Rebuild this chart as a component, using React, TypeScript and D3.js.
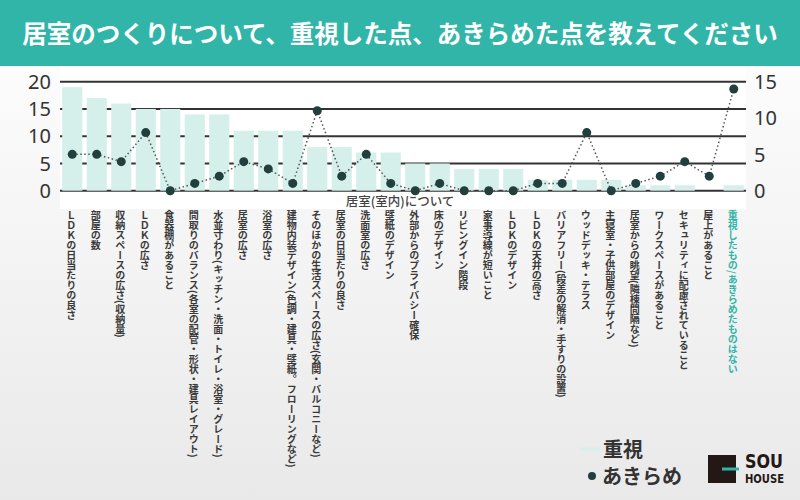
import React from "react";
import * as d3 from "d3";

const categories = [
  "ＬＤＫの日当たりの良さ",
  "部屋の数",
  "収納スペースの広さ(収納量)",
  "ＬＤＫの広さ",
  "食器棚があること",
  "間取りのバランス(各室の配管・形状・建具レイアウト)",
  "水並寸わり(キッチン・洗面・トイレ・浴室・グレード)",
  "居室の広さ",
  "浴室の広さ",
  "建物内装デザイン(色調・建具・壁紙。フローリングなど)",
  "そのほかの生活スペースの広さ(玄関・バルコニーなど)",
  "居室の日当たりの良さ",
  "洗面室の広さ",
  "壁紙のデザイン",
  "外部からのプライバシー確保",
  "床のデザイン",
  "リビングイン階段",
  "家事導線が短いこと",
  "ＬＤＫのデザイン",
  "ＬＤＫの天井の高さ",
  "バリアフリー(段差の解消・手すりの設置)",
  "ウッドデッキ・テラス",
  "主寝室・子供部屋のデザイン",
  "居室からの眺望(隣棟間隔など)",
  "ワークスペースがあること",
  "セキュリティに配慮されていること",
  "屋上があること",
  "重視したもの/あきらめたものはない",
];

const juushi = [19, 17, 16, 15, 15, 14, 14, 11, 11, 11, 8, 8, 7, 7, 5, 5, 4, 4, 4, 2, 2, 2, 2, 1, 1, 1, 0, 1];
const akirame = [5, 5, 4, 8, 0, 1, 2, 4, 3, 1, 11, 2, 5, 1, 0, 1, 0, 0, 0, 1, 1, 8, 0, 1, 2, 4, 2, 14];

const leftTicks = [0, 5, 10, 15, 20];
const rightTicks = [0, 5, 10, 15];

const title = "居室のつくりについて、重視した点、あきらめた点を教えてください";
const axisTitle = "居室(室内)について";
const legendBar = "重視";
const legendLine = "あきらめ";

const FONT = "'Noto Sans CJK JP', 'Noto Sans', sans-serif";

export default function App() {
  const W = 800, H = 500;
  const x = d3.scaleBand<string>().domain(categories).range([60, 746]).paddingInner(0.18).paddingOuter(0.09);
  const yL = d3.scaleLinear().domain([0, 20]).range([190.7, 81.7]);
  const yR = d3.scaleLinear().domain([0, 15]).range([190.7, 81.7]);
  const cx = (i: number) => (x(categories[i]) as number) + x.bandwidth() / 2;
  const line = d3.line<number>().x((_, i) => cx(i)).y((d) => yR(d));

  return (
    <svg width={W} height={H} style={{ display: "block", position: "absolute", left: 0, top: 0 }} fontFamily={FONT}>
      <defs>
        <linearGradient id="bg" x1="0" y1="0" x2="0" y2="1">
          <stop offset="0" stopColor="#ffffff" />
          <stop offset="1" stopColor="#e9e9e9" />
        </linearGradient>
      </defs>
      <rect x={0} y={0} width={W} height={H} fill="url(#bg)" />
      <rect x={0} y={0} width={W} height={66} fill="#31b5a8" />
      <text x={400} y={43} textAnchor="middle" fill="#fff" fontSize={24.5} fontWeight="bold">{title}</text>
      <rect x={60} y={66} width={686} height={143} fill="#fff" />
      {leftTicks.map((t) => (
        <line key={"g" + t} x1={60} x2={746} y1={yL(t)} y2={yL(t)} stroke="#333" strokeWidth={2} />
      ))}
      {juushi.map((v, i) => (
        <rect key={"b" + i} x={x(categories[i]) as number} width={x.bandwidth()} y={yL(v)} height={yL(0) - yL(v)} fill="#d5efeb" />
      ))}
      <path d={line(akirame) || ""} fill="none" stroke="#555" strokeWidth={1.5} strokeDasharray="1.5 2.5" />
      {akirame.map((v, i) => (
        <circle key={"c" + i} cx={cx(i)} cy={yR(v)} r={4.5} fill="#213f3c" />
      ))}
      {leftTicks.map((t) => (
        <text key={"l" + t} x={51} y={yL(t)} dy="0.36em" textAnchor="end" fontSize={20} fill="#333" fontFamily="'Noto Sans', sans-serif">{t}</text>
      ))}
      {rightTicks.map((t) => (
        <text key={"r" + t} x={754} y={yR(t)} dy="0.36em" textAnchor="start" fontSize={20} fill="#333" fontFamily="'Noto Sans', sans-serif">{t}</text>
      ))}
      <text x={400} y={201} dy="0.36em" textAnchor="middle" fontSize={12.5} fill="#444" fontWeight={500}>{axisTitle}</text>
      {categories.map((c, i) => (
        <text key={"t" + i} x={cx(i) - 1} y={210} fontSize={10} fontWeight="bold" fill={i === categories.length - 1 ? "#31b5a8" : "#3a3a3a"} style={{ writingMode: "vertical-rl" }}>{c}</text>
      ))}
      <line x1={580} x2={600} y1={449} y2={449} stroke="#d5efeb" strokeWidth={3} />
      <text x={603} y={457} fontSize={20} fontWeight="bold" fill="#333">{legendBar}</text>
      <circle cx={592} cy={476} r={4} fill="#213f3c" />
      <text x={602} y={484} fontSize={20} fontWeight="bold" fill="#333">{legendLine}</text>
      <rect x={708} y={455} width={28} height={28} fill="#231815" />
      <line x1={722} x2={739} y1={469} y2={469} stroke="#31b5a8" strokeWidth={3} />
      <text x={745} y={468} fontSize={20} fontWeight="bold" fill="#231815" textLength={38} lengthAdjust="spacingAndGlyphs" fontFamily="'DejaVu Sans', sans-serif">SOU</text>
      <text x={745} y={483} fontSize={12} fontWeight="bold" fill="#231815" textLength={39} lengthAdjust="spacingAndGlyphs" fontFamily="'DejaVu Sans', sans-serif">HOUSE</text>
    </svg>
  );
}
